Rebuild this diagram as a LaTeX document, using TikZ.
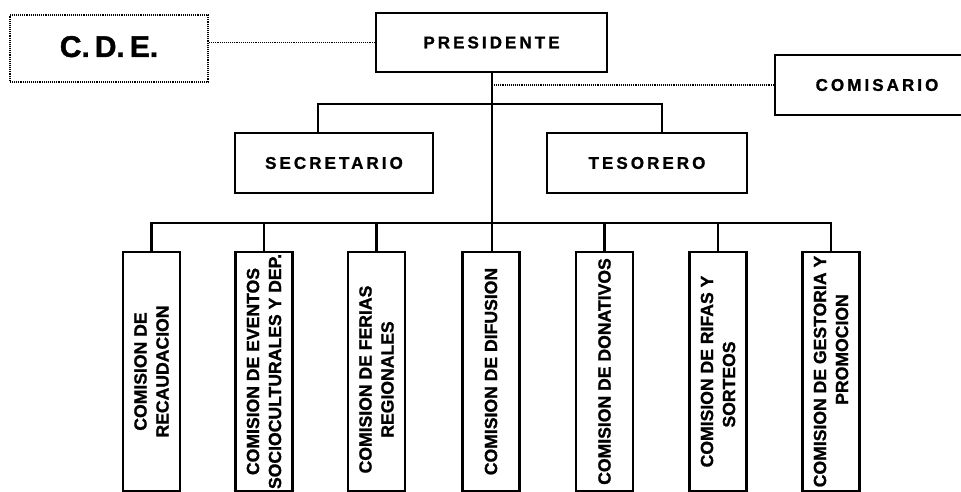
\documentclass[tikz,border=0pt]{standalone}
\usepackage{fontspec}
\setmainfont{Liberation Sans}
\begin{document}
\begin{tikzpicture}[x=1pt,y=-1pt,
  box/.style={draw, line width=2.8pt, inner sep=0pt,
    font=\bfseries\fontsize{17}{19}\selectfont\addfontfeature{LetterSpace=18,FakeBold=1.2}},
  dotbox/.style={draw, dash pattern=on 1pt off 0.9pt, line width=1.9pt, inner sep=0pt,
    font=\bfseries\fontsize{30}{36}\selectfont\addfontfeature{FakeBold=1.5}},
  combox/.style={draw, line width=2.8pt, inner sep=0pt, rotate=90,
    minimum width=239pt, minimum height=57pt, align=center,
    font=\bfseries\fontsize{17.6}{22}\selectfont\addfontfeature{FakeBold=1.2}},
  conn/.style={line width=2.4pt},
  dotconn/.style={dash pattern=on 1pt off 0.9pt, line width=1.9pt}]
\useasboundingbox (0,0) rectangle (961,492);
\fill[white] (0,0) rectangle (961,492);

\node[dotbox, minimum width=198pt, minimum height=67pt] (cde) at (109,48.5) {\raisebox{4pt}{C.\,D.\,E.}};
\node[box, minimum width=231pt, minimum height=59pt] (pres) at (491.5,42.5) {PRESIDENTE};
\node[box, minimum width=204pt, minimum height=60pt] (com) at (877,85) {COMISARIO};
\node[box, minimum width=198pt, minimum height=60pt] (sec) at (334,163) {SECRETARIO};
\node[box, minimum width=200pt, minimum height=60pt] (tes) at (647,163) {TESORERO};

\node[combox] (b1) at (151.5,371.5) {COMISION DE\\RECAUDACION};
\node[combox] (b2) at (264,371.5) {COMISION DE EVENTOS\\SOCIOCULTURALES Y DEP.};
\node[combox] (b3) at (376.5,371.5) {COMISION DE FERIAS\rule{16pt}{0pt}\\REGIONALES\rule{16pt}{0pt}};
\node[combox] (b4) at (491,371.5) {COMISION DE DIFUSION};
\node[combox] (b5) at (604.5,371.5) {COMISION DE DONATIVOS};
\node[combox] (b6) at (718,371.5) {COMISION DE RIFAS Y\\SORTEOS\rule{26pt}{0pt}};
\node[combox] (b7) at (831,371.5) {COMISION DE GESTORIA Y\\\rule{44pt}{0pt}PROMOCION};

\coordinate (jt) at (492,104);
\coordinate (jb) at (492,223);
\coordinate (sd) at (318,104);
\coordinate (td) at (662,104);
\coordinate (cm) at (492,85);

\draw[dotconn] (cde.east |- pres.west) -- (pres.west);
\draw[dotconn] (cm) -- (com.west);

\draw[conn] (pres.south -| jt) -- (jb) -- (jb |- b4.east);
\draw[conn] (sec.north -| sd) -- (sd) -- (td) -- (tes.north -| td);
\draw[conn] (b1.east) -- (b1.east |- jb) -- (b7.east |- jb) -- (b7.east);
\foreach \b in {b2,b3,b5,b6}{
  \draw[conn] (\b.east) -- (\b.east |- jb);
}
\end{tikzpicture}
\end{document}
